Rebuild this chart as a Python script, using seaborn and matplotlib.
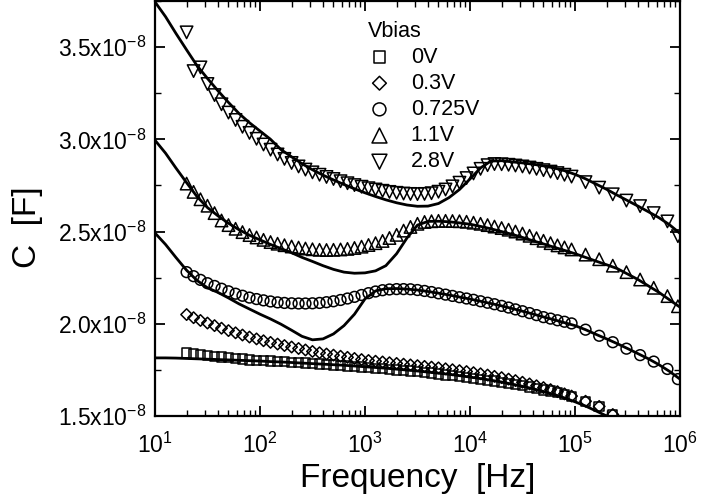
import numpy as np
import pandas as pd
import matplotlib
matplotlib.use("Agg")
import matplotlib.pyplot as plt
import seaborn as sns
from matplotlib.ticker import FixedLocator, FixedFormatter, LogLocator, NullFormatter, MultipleLocator

# --- measured points (C in units of 1e-8 F) ---
freq_hz = [20, 23.3, 27.1, 31.6, 36.9, 43.0, 50.1, 58.5, 68.1, 79.4,
           92.7, 108, 126, 147, 171, 200, 233, 271, 316, 369,
           430, 501, 585, 681, 794, 927, 1080, 1260, 1470, 1710,
           2000, 2330, 2710, 3160, 3690, 4300, 5010, 5850, 6810, 7940,
           9270, 10800, 12600, 14700, 17100, 20000, 23300, 27100, 31600, 36900,
           43000, 50100, 58500, 68100, 79400, 92700,
           126000, 170000, 229000, 309000, 417000, 562000, 759000, 955000]

c_0v = [1.841, 1.836, 1.832, 1.828, 1.824, 1.820, 1.816, 1.812, 1.808, 1.804,
        1.802, 1.800, 1.798, 1.796, 1.794, 1.791, 1.789, 1.787, 1.785, 1.783,
        1.780, 1.777, 1.774, 1.771, 1.768, 1.765, 1.762, 1.759, 1.756, 1.753,
        1.750, 1.747, 1.744, 1.740, 1.736, 1.732, 1.727, 1.723, 1.719, 1.714,
        1.709, 1.704, 1.699, 1.694, 1.689, 1.683, 1.677, 1.671, 1.665, 1.658,
        1.650, 1.642, 1.635, 1.626, 1.615, 1.605,
        1.578, 1.550, 1.505, 1.46, 1.41, 1.36, 1.31, 1.26]

c_03v = [2.050, 2.033, 2.018, 2.004, 1.990, 1.976, 1.963, 1.951, 1.939, 1.928,
         1.918, 1.908, 1.899, 1.890, 1.882, 1.874, 1.866, 1.858, 1.850, 1.843,
         1.836, 1.830, 1.824, 1.818, 1.812, 1.806, 1.801, 1.797, 1.793, 1.789,
         1.785, 1.781, 1.777, 1.773, 1.769, 1.765, 1.761, 1.756, 1.751, 1.746,
         1.741, 1.735, 1.729, 1.722, 1.715, 1.708, 1.700, 1.692, 1.683, 1.674,
         1.664, 1.654, 1.643, 1.632, 1.620, 1.608,
         1.580, 1.552, 1.508, 1.46, 1.41, 1.36, 1.31, 1.26]

c_0725v = [2.280, 2.258, 2.238, 2.220, 2.205, 2.190, 2.176, 2.163, 2.152, 2.142,
           2.134, 2.127, 2.121, 2.116, 2.113, 2.111, 2.110, 2.110, 2.111, 2.113,
           2.117, 2.122, 2.129, 2.137, 2.146, 2.156, 2.166, 2.175, 2.182, 2.186,
           2.188, 2.188, 2.187, 2.183, 2.178, 2.172, 2.165, 2.158, 2.151, 2.144,
           2.137, 2.130, 2.122, 2.114, 2.106, 2.097, 2.088, 2.078, 2.068, 2.058,
           2.047, 2.036, 2.028, 2.019, 2.011, 2.002,
           1.968, 1.935, 1.900, 1.865, 1.830, 1.795, 1.755, 1.700]

c_11v = [2.760, 2.715, 2.675, 2.640, 2.600, 2.560, 2.535, 2.515, 2.497, 2.481,
         2.468, 2.455, 2.443, 2.434, 2.426, 2.419, 2.413, 2.408, 2.404, 2.401,
         2.400, 2.401, 2.403, 2.406, 2.411, 2.418, 2.427, 2.437, 2.449, 2.465,
         2.482, 2.505, 2.525, 2.542, 2.552, 2.556, 2.558, 2.558, 2.557, 2.556,
         2.553, 2.548, 2.542, 2.535, 2.527, 2.519, 2.510, 2.500, 2.489, 2.477,
         2.464, 2.450, 2.437, 2.425, 2.414, 2.403,
         2.375, 2.350, 2.315, 2.280, 2.240, 2.195, 2.150, 2.095]

c_28v = [3.580, 3.370, 3.390, 3.300, 3.240, 3.190, 3.145, 3.105, 3.068, 3.035,
         3.003, 2.972, 2.944, 2.918, 2.894, 2.872, 2.853, 2.836, 2.821, 2.808,
         2.796, 2.785, 2.773, 2.762, 2.752, 2.743, 2.735, 2.728, 2.721, 2.715,
         2.710, 2.706, 2.704, 2.703, 2.704, 2.708, 2.716, 2.728, 2.745, 2.765,
         2.790, 2.815, 2.840, 2.860, 2.866, 2.865, 2.862, 2.858, 2.853, 2.847,
         2.840, 2.833, 2.825, 2.817, 2.808, 2.798,
         2.768, 2.738, 2.702, 2.668, 2.638, 2.600, 2.555, 2.475]

# --- fitted curves (C in units of 1e-8 F) ---
fit_freq_hz = [10, 12.6, 15.8, 20, 25.1, 31.6, 39.8, 50.1, 63.1, 79.4,
               100, 126, 158, 200, 251, 316, 398, 501, 631, 794,
               1000, 1260, 1580, 2000, 2510, 3160, 3980, 5010, 6310, 7940,
               10000, 12600, 15800, 20000, 25100, 31600, 39800, 50100, 63100, 79400,
               100000, 126000, 158000, 200000, 251000, 316000, 398000, 501000, 631000, 794000,
               1000000]

fit_0v = [1.815, 1.815, 1.814, 1.812, 1.810, 1.808, 1.806, 1.804, 1.802, 1.800,
          1.798, 1.795, 1.793, 1.790, 1.787, 1.784, 1.781, 1.778, 1.775, 1.771,
          1.767, 1.763, 1.759, 1.754, 1.749, 1.744, 1.738, 1.732, 1.726, 1.719,
          1.711, 1.703, 1.694, 1.684, 1.673, 1.661, 1.648, 1.633, 1.617, 1.598,
          1.577, 1.554, 1.528, 1.500, 1.470, 1.44, 1.41, 1.38, 1.35, 1.32,
          1.29]

fit_0725v = [2.492, 2.43, 2.36, 2.29, 2.235, 2.195, 2.17, 2.14, 2.108, 2.08,
             2.052, 2.026, 1.998, 1.965, 1.932, 1.913, 1.918, 1.945, 1.99, 2.052,
             2.135, 2.178, 2.19, 2.191, 2.188, 2.183, 2.175, 2.166, 2.156, 2.145,
             2.134, 2.122, 2.110, 2.097, 2.083, 2.068, 2.053, 2.037, 2.022, 2.006,
             1.99, 1.968, 1.943, 1.918, 1.893, 1.866, 1.838, 1.81, 1.778, 1.742,
             1.70]

fit_11v = [2.995, 2.925, 2.845, 2.765, 2.69, 2.63, 2.585, 2.545, 2.51, 2.48,
           2.455, 2.43, 2.408, 2.385, 2.36, 2.338, 2.315, 2.295, 2.28, 2.274,
           2.276, 2.287, 2.315, 2.38, 2.465, 2.535, 2.555, 2.556, 2.553, 2.547,
           2.54, 2.528, 2.515, 2.50, 2.485, 2.468, 2.45, 2.433, 2.415, 2.398,
           2.38, 2.36, 2.34, 2.32, 2.30, 2.27, 2.24, 2.205, 2.17, 2.13,
           2.09]

fit_28v = [3.745, 3.665, 3.575, 3.485, 3.40, 3.33, 3.263, 3.20, 3.14, 3.09,
           3.045, 3.00, 2.945, 2.905, 2.868, 2.835, 2.806, 2.78, 2.755, 2.732,
           2.71, 2.69, 2.672, 2.656, 2.644, 2.637, 2.638, 2.652, 2.684, 2.728,
           2.785, 2.845, 2.882, 2.884, 2.878, 2.872, 2.865, 2.856, 2.845, 2.83,
           2.81, 2.786, 2.758, 2.729, 2.698, 2.668, 2.638, 2.607, 2.575, 2.537,
           2.49]

bias_labels = ["0V", "0.3V", "0.725V", "1.1V", "2.8V"]
bias_markers = ["s", "D", "o", "^", "v"]
marker_sizes = [46, 34, 60, 80, 80]

x_ticks = [1e1, 1e2, 1e3, 1e4, 1e5, 1e6]
x_tick_labels = ["$10^{1}$", "$10^{2}$", "$10^{3}$", "$10^{4}$", "$10^{5}$", "$10^{6}$"]
y_ticks = [1.5e-8, 2.0e-8, 2.5e-8, 3.0e-8, 3.5e-8]
y_tick_labels = ["1.5x10$^{-8}$", "2.0x10$^{-8}$", "2.5x10$^{-8}$", "3.0x10$^{-8}$", "3.5x10$^{-8}$"]

# --- build long tables ---
series = [c_0v, c_03v, c_0725v, c_11v, c_28v]
pts = pd.concat(
    [pd.DataFrame({"freq": freq_hz, "C": np.array(v) * 1e-8, "Vbias": lab})
     for v, lab in zip(series, bias_labels)],
    ignore_index=True,
)
fits = pd.concat(
    [pd.DataFrame({"freq": fit_freq_hz, "C": np.array(v) * 1e-8, "curve": name})
     for v, name in zip([fit_0v, fit_0725v, fit_11v, fit_28v], ["0V", "0.725V", "1.1V", "2.8V"])],
    ignore_index=True,
)

sns.set_style("ticks", rc={"text.color": "black", "axes.labelcolor": "black",
                           "xtick.color": "black", "ytick.color": "black",
                           "axes.edgecolor": "black"})
plt.rcParams["font.family"] = ["Liberation Sans", "DejaVu Sans"]
plt.rcParams["mathtext.fontset"] = "custom"
plt.rcParams["mathtext.rm"] = "Liberation Sans"
plt.rcParams["mathtext.it"] = "Liberation Sans:italic"
plt.rcParams["mathtext.bf"] = "Liberation Sans:bold"

fig = plt.figure(figsize=(7.01, 5.01), dpi=100)
ax = fig.add_axes([155 / 701, 85 / 501, 525 / 701, 415 / 501])

for lab, m, s in zip(bias_labels, bias_markers, marker_sizes):
    sub = pts[pts["Vbias"] == lab]
    sns.scatterplot(data=sub, x="freq", y="C", marker=m, s=s, color="black",
                    facecolors="none", edgecolor="black", linewidth=1.1,
                    label=lab, ax=ax, zorder=2)

sns.lineplot(data=fits, x="freq", y="C", units="curve", estimator=None,
             color="black", linewidth=2.0, sort=False, legend=False, ax=ax, zorder=3)

ax.set_xscale("log")
ax.set_xlim(10, 1e6)
ax.set_ylim(1.5e-8, 3.75e-8)

ax.xaxis.set_major_locator(FixedLocator(x_ticks))
ax.xaxis.set_major_formatter(FixedFormatter(x_tick_labels))
ax.xaxis.set_minor_locator(LogLocator(base=10, subs=np.arange(2, 10)))
ax.xaxis.set_minor_formatter(NullFormatter())
ax.yaxis.set_major_locator(FixedLocator(y_ticks))
ax.yaxis.set_major_formatter(FixedFormatter(y_tick_labels))
ax.yaxis.set_minor_locator(MultipleLocator(0.25e-8))

ax.tick_params(which="both", direction="in", top=True, right=True, colors="black")
ax.tick_params(which="major", length=7, width=1.3, labelsize=16.5)
ax.tick_params(axis="x", which="major", pad=12)
ax.tick_params(axis="y", which="major", pad=6)
ax.tick_params(which="minor", length=4, width=1.0)
for sp in ax.spines.values():
    sp.set_linewidth(1.6)
    sp.set_color("black")

ax.set_xlabel("Frequency  [Hz]", fontsize=24, labelpad=4)
ax.set_ylabel("C  [F]", fontsize=24)
ax.yaxis.set_label_coords(-0.213, 0.455)

leg = ax.legend(title="Vbias", frameon=False, loc="upper left",
                bbox_to_anchor=(0.405, 0.953), fontsize=15.5, title_fontsize=15.5,
                alignment="left", borderpad=0, handlelength=1.1, handletextpad=0.9,
                labelspacing=0.24, borderaxespad=0, markerscale=1.2)

fig.savefig("out.png", dpi=100)
